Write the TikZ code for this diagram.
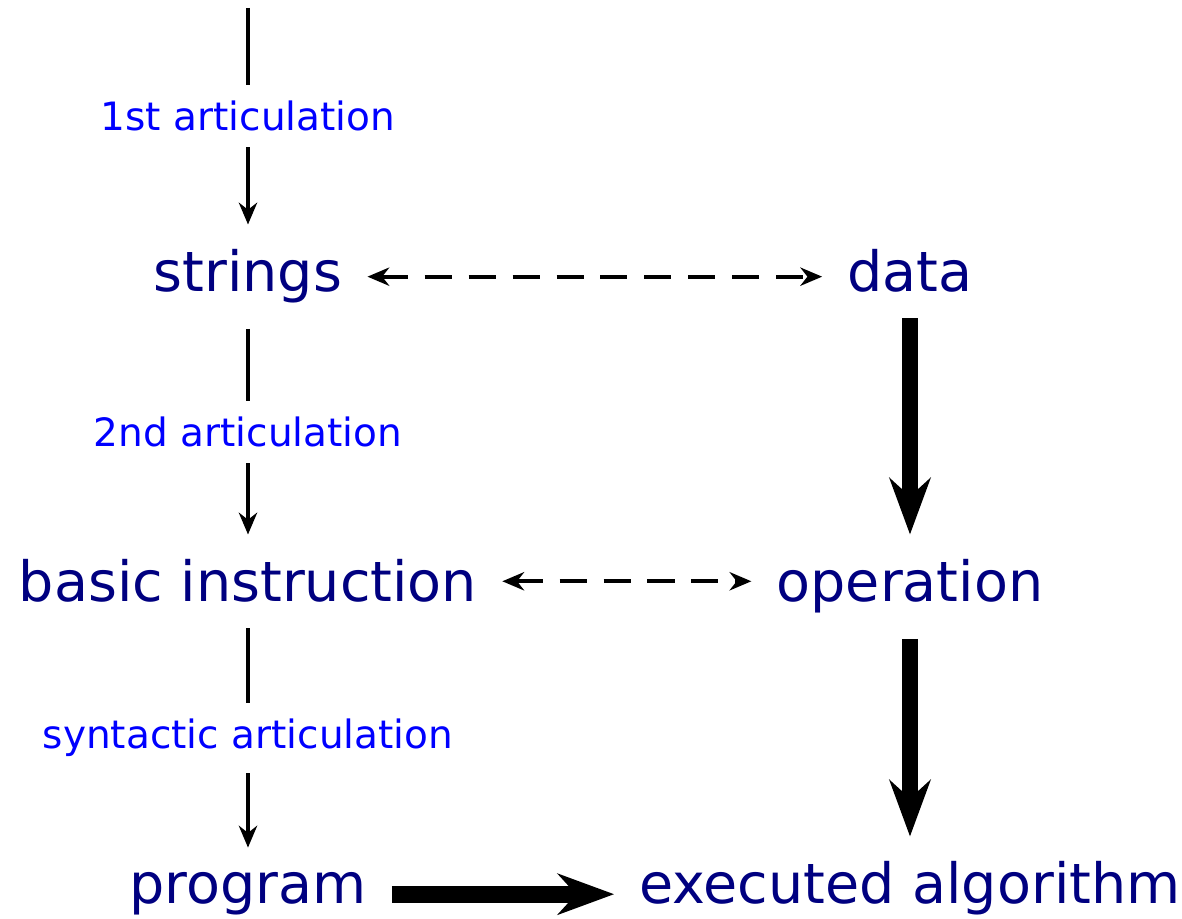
\documentclass[tikz,border=0pt]{standalone}
\usepackage{fontspec}
\setsansfont{DejaVu Sans}
\usetikzlibrary{arrows.meta}
\definecolor{navy}{RGB}{0,0,128}
\begin{document}
\begin{tikzpicture}[>={Stealth[length=6.2pt,width=5.2pt]}, font=\sffamily, line join=round,
	term/.style={text=navy, font=\sffamily\fontsize{15.8}{19}\selectfont, anchor=base, inner sep=7pt},
	lab/.style={text=blue, font=\sffamily\fontsize{11.1}{13}\selectfont, fill=white, inner sep=4.5pt},
	artic/.style={->, line width=1.1pt},
	link/.style={<->, line width=1.1pt, dash pattern=on 7.7pt off 4.8pt},
	heavy/.style={-{Stealth[length=16pt,width=11.6pt]}, line width=4.8pt}]
	\def\xl{2.48} \def\xr{9.1} % Cot
	\useasboundingbox (0,0) rectangle (11.82,-9.19);
	
	\coordinate (top) at (\xl,-0.08);
	\node[term] (strings) at (\xl,-2.92) {strings};
	\node[term] (data) at (\xr,-2.92) {data};
	\node[term] (basic) at (\xl,-6.02) {basic instruction};
	\node[term] (operation) at (\xr,-6.02) {operation};
	\node[term] (program) at (\xl,-9.04) {program};
	\node[term] (executed) at (\xr,-9.04) {executed algorithm};
	
	\draw[artic] (top) -- node[lab]{1st articulation} (strings);
	\draw[artic] (strings) -- node[lab]{2nd articulation} (basic);
	\draw[artic] (basic) -- node[lab]{syntactic articulation} (program);
	
	\draw[link] (strings) -- (strings -| data.west);
	\draw[link] (basic) -- (basic -| operation.west);
	
	\draw[heavy] (data) -- (operation);
	\draw[heavy] (operation) -- (executed);
	\draw[heavy] (program) -- (program -| executed.west);
\end{tikzpicture}
\end{document}
